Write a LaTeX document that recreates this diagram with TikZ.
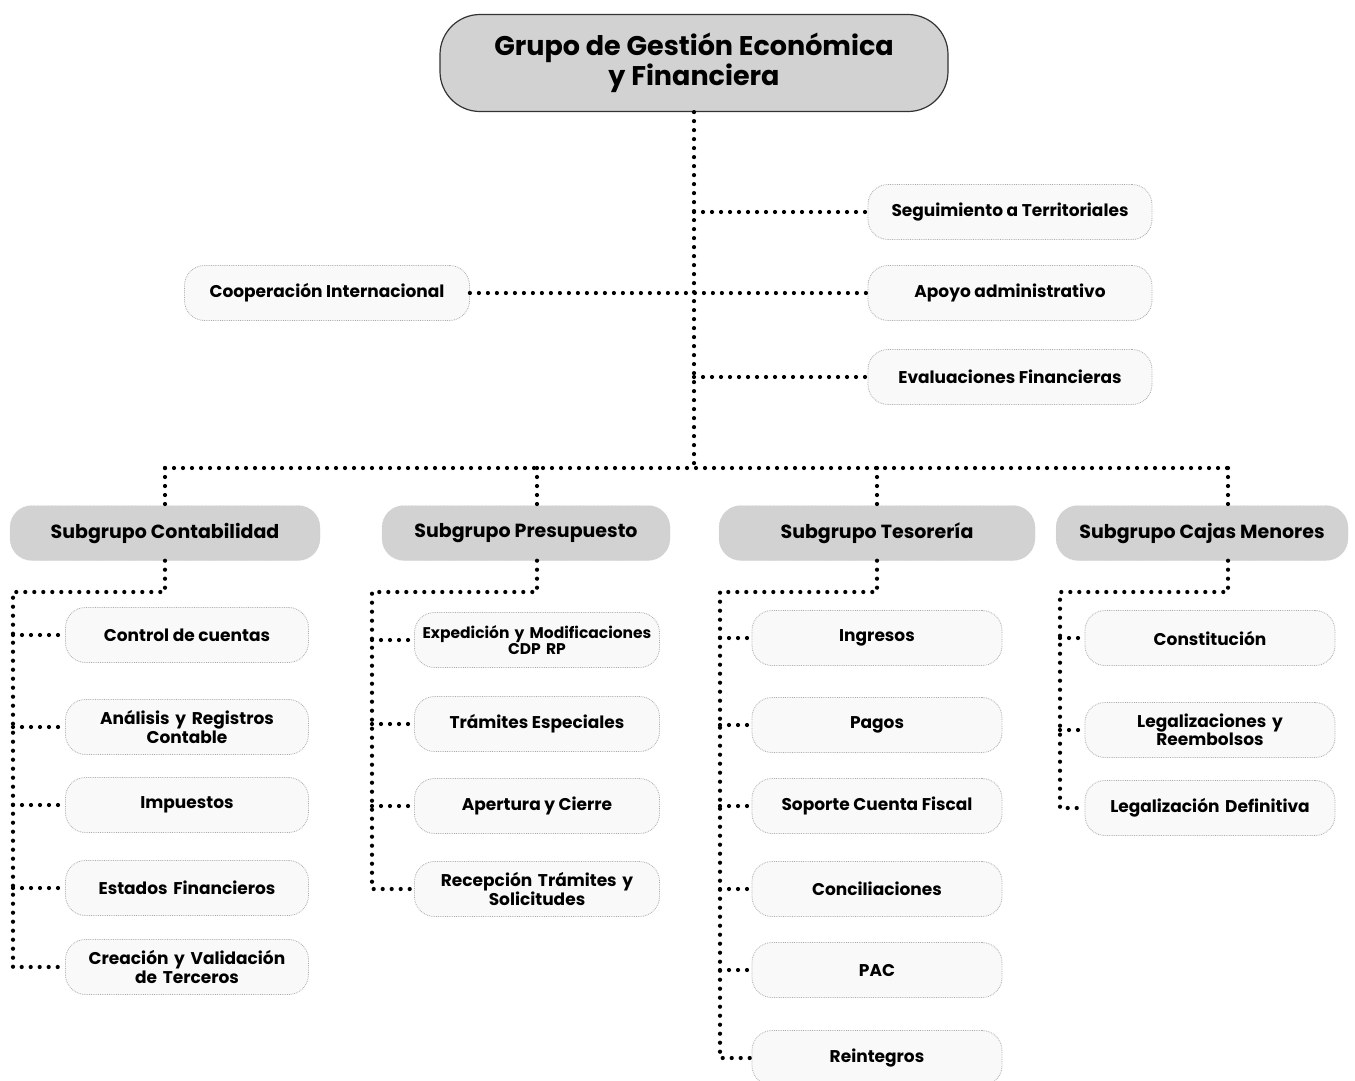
\documentclass[tikz,border=0pt]{standalone}
\usepackage{fontspec}
\setmainfont{Poppins}
\begin{document}
\begin{tikzpicture}[x=1pt,y=-1pt,
  topbox/.style={draw=black!80, line width=1.2pt, fill=gray!35, rounded corners=40pt,
    minimum width=508pt, minimum height=97pt, align=center,
    font=\fontsize{27}{27}\selectfont\bfseries},
  subbox/.style={fill=gray!35, draw=gray!45, densely dotted, rounded corners=22pt,
    minimum height=55pt, align=center, font=\fontsize{19}{20}\selectfont\bfseries},
  leaf/.style={draw=gray!65, densely dotted, line width=0.8pt, fill=gray!5, rounded corners=20pt,
    minimum height=55pt, align=center, font=\fontsize{17}{15.5}\selectfont\bfseries},
  dotline/.style={line width=4.2pt, line cap=round, dash pattern=on 0pt off 9pt, black}
]
\useasboundingbox (0,0) rectangle (1355,1080);
\fill[white] (0,0) rectangle (1355,1080);

% top
\node[topbox] (top) at (694,63) {Grupo de Gestión Económica\\y Financiera};

% side nodes
\node[leaf, minimum width=284pt] (seg) at (1010,212) {Seguimiento a Territoriales};
\node[leaf, minimum width=284pt] (apo) at (1010,293) {Apoyo administrativo};
\node[leaf, minimum width=284pt] (eva) at (1010,377) {Evaluaciones Financieras};
\node[leaf, minimum width=285pt] (coop) at (327,293) {Cooperación Internacional};

% subgroups
\node[subbox, minimum width=310pt] (cont) at (165,533) {Subgrupo Contabilidad};
\node[subbox, minimum width=288pt] (pres) at (526,533) {Subgrupo Presupuesto};
\node[subbox, minimum width=316pt] (teso) at (877,533) {Subgrupo Tesorería};
\node[subbox, minimum width=292pt] (caja) at (1202,533) {Subgrupo Cajas Menores};

% Contabilidad children
\node[leaf, minimum width=243pt] (c1) at (187,635) {Control de cuentas};
\node[leaf, minimum width=243pt, text width=235pt] (c2) at (187,727) {Análisis y Registros\\Contable};
\node[leaf, minimum width=243pt] (c3) at (187,805) {Impuestos};
\node[leaf, minimum width=243pt, text width=235pt] (c4) at (187,888) {Estados Financieros};
\node[leaf, minimum width=243pt, text width=235pt] (c5) at (187,967) {Creación y Validación\\de Terceros};

% Presupuesto children
\node[leaf, minimum width=245pt, text width=238pt, font=\fontsize{15.5}{15}\selectfont\bfseries] (p1) at (537,640) {Expedición y Modificaciones\\CDP RP};
\node[leaf, minimum width=245pt] (p2) at (537,724) {Trámites Especiales};
\node[leaf, minimum width=245pt] (p3) at (537,806) {Apertura y Cierre};
\node[leaf, minimum width=245pt, text width=235pt] (p4) at (537,889) {Recepción Trámites y\\Solicitudes};

% Tesoreria children
\node[leaf, minimum width=250pt] (t1) at (877,638) {Ingresos};
\node[leaf, minimum width=250pt] (t2) at (877,725) {Pagos};
\node[leaf, minimum width=250pt] (t3) at (877,806) {Soporte Cuenta Fiscal};
\node[leaf, minimum width=250pt] (t4) at (877,889) {Conciliaciones};
\node[leaf, minimum width=250pt] (t5) at (877,970) {PAC};
\node[leaf, minimum width=250pt] (t6) at (877,1058) {Reintegros};

% Cajas children
\node[leaf, minimum width=250pt] (k1) at (1210,638) {Constitución};
\node[leaf, minimum width=250pt, text width=235pt] (k2) at (1210,730) {Legalizaciones y\\Reembolsos};
\node[leaf, minimum width=250pt, text width=240pt] (k3) at (1210,808) {Legalización Definitiva};

% trunk and bus
\coordinate (busc) at (694,468);
\coordinate (busl) at (165,468);
\coordinate (busr) at (1228,468);
\coordinate (pd) at (537,468);
\draw[dotline] (top.south) -- (busc);
\draw[dotline] (busl) -- (busr);
\draw[dotline] (top.south |- seg.west) -- (seg.west);
\draw[dotline] (top.south |- eva.west) -- (eva.west);
\draw[dotline] (coop.east) -- (apo.west);
\draw[dotline] (busl) -- (cont.north);
\draw[dotline] (pd) -- (pd |- pres.north);
\draw[dotline] (busl -| teso.north) -- (teso.north);
\draw[dotline] (busr) -- (busr |- caja.north);

% Contabilidad tree
\coordinate (cj) at (13,592);
\draw[dotline] (cont.south) -- (cont.south |- cj) -- (cj) -- (cj |- c5.west) -- (c5.west);
\foreach \n in {c1,c2,c3,c4} \draw[dotline] (cj |- \n.west) -- (\n.west);

% Presupuesto tree
\coordinate (pj) at (372,592);
\draw[dotline] (pd |- pres.south) -- (pd |- pj) -- (pj) -- (pj |- p4.west) -- (p4.west);
\foreach \n in {p1,p2,p3} \draw[dotline] (pj |- \n.west) -- (\n.west);

% Tesoreria tree
\coordinate (tj) at (720,592);
\draw[dotline] (teso.south) -- (teso.south |- tj) -- (tj) -- (tj |- t6.west) -- (t6.west);
\foreach \n in {t1,t2,t3,t4,t5} \draw[dotline] (tj |- \n.west) -- (\n.west);

% Cajas tree
\coordinate (kj) at (1060,592);
\draw[dotline] (busr |- caja.south) -- (busr |- kj) -- (kj) -- (kj |- k3.west) -- (k3.west);
\foreach \n in {k1,k2} \draw[dotline] (kj |- \n.west) -- (\n.west);
\end{tikzpicture}
\end{document}
